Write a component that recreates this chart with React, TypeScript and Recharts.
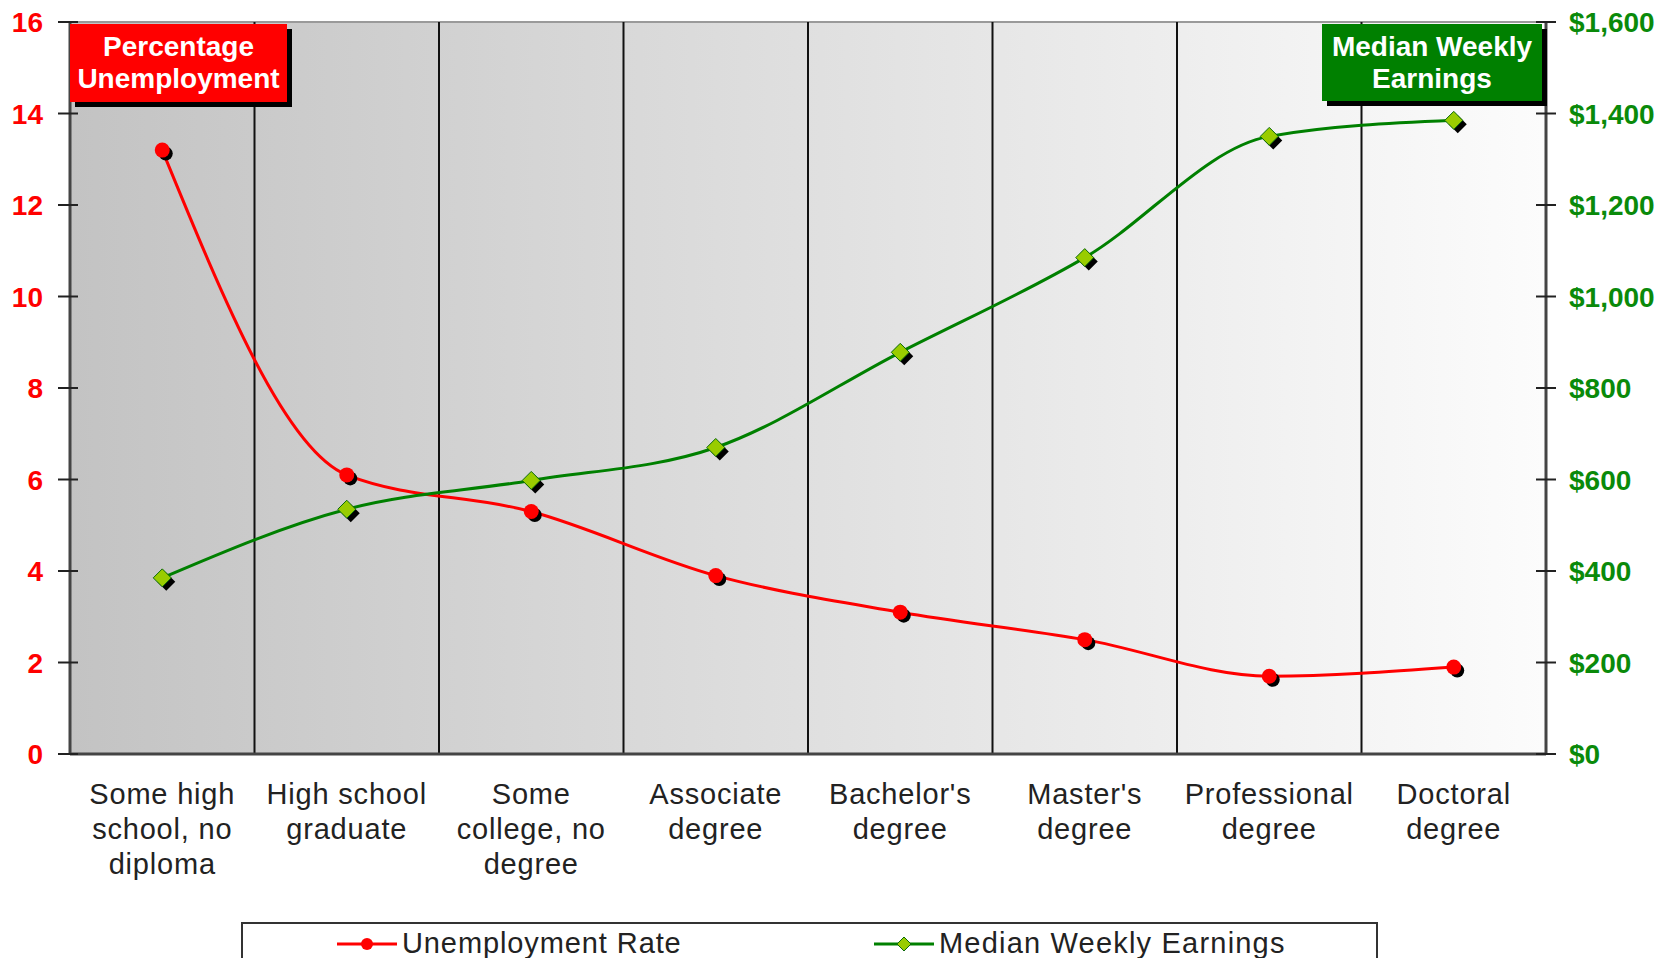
import React from 'react';
import {
  ComposedChart,
  Line,
  XAxis,
  YAxis,
  CartesianGrid,
  ReferenceLine,
} from 'recharts';

const categories = [
  'Some high\nschool, no\ndiploma',
  'High school\ngraduate',
  'Some\ncollege, no\ndegree',
  'Associate\ndegree',
  "Bachelor's\ndegree",
  "Master's\ndegree",
  'Professional\ndegree',
  'Doctoral\ndegree',
];

// Percentage unemployment (left axis)
const unemploymentRate = [13.2, 6.1, 5.3, 3.9, 3.1, 2.5, 1.7, 1.9];
// Median weekly earnings in dollars (right axis)
const weeklyEarnings = [385, 535, 598, 670, 878, 1085, 1350, 1385];

const leftTicks = [0, 2, 4, 6, 8, 10, 12, 14, 16];
const rightTicks = [0, 200, 400, 600, 800, 1000, 1200, 1400, 1600];

const FONT = '"Liberation Sans", Arial, sans-serif';

const data = categories.map((name, i) => ({
  pos: i + 0.5,
  name,
  rate: unemploymentRate[i],
  earnings: weeklyEarnings[i],
}));

const boundaryTicks = [...categories.map((_, i) => i), categories.length];
const innerBoundaries = boundaryTicks.slice(1, -1);
const centerTicks = data.map((d) => d.pos);

const LeftTick = (props: any) => {
  const { x, y, payload } = props;
  return (
    <g>
      <line x1={x - 12} x2={x + 8} y1={y} y2={y} stroke="#222" strokeWidth={2} />
      <text
        x={x - 27}
        y={y}
        dy={10}
        textAnchor="end"
        fill="#ff0000"
        fontSize={28}
        fontWeight="bold"
        fontFamily={FONT}
      >
        {payload.value}
      </text>
    </g>
  );
};

const RightTick = (props: any) => {
  const { x, y, payload } = props;
  return (
    <g>
      <line x1={x - 10} x2={x + 10} y1={y} y2={y} stroke="#222" strokeWidth={2} />
      <text
        x={x + 23}
        y={y}
        dy={10}
        textAnchor="start"
        fill="#0a8a0a"
        fontSize={28}
        fontWeight="bold"
        fontFamily={FONT}
      >
        {'$' + Number(payload.value).toLocaleString('en-US')}
      </text>
    </g>
  );
};

const CategoryTick = (props: any) => {
  const { x, y, payload } = props;
  const label = categories[Math.floor(payload.value)] || '';
  return (
    <text
      x={x}
      y={y}
      textAnchor="middle"
      fill="#222"
      fontSize={29}
      fontFamily={FONT}
      letterSpacing={0.8}
    >
      {label.split('\n').map((line, i) => (
        <tspan key={i} x={x} dy={i === 0 ? 40 : 35}>
          {line}
        </tspan>
      ))}
    </text>
  );
};

const RedDot = (props: any) => {
  const { cx, cy, index } = props;
  if (cx == null || cy == null) return <g key={`r-${index}`} />;
  return (
    <g key={`r-${index}`}>
      <circle cx={cx + 3.5} cy={cy + 3.5} r={7} fill="#000" />
      <circle cx={cx} cy={cy} r={7.5} fill="#ff0000" />
    </g>
  );
};

const diamond = (cx: number, cy: number, s: number) =>
  `${cx},${cy - s} ${cx + s},${cy} ${cx},${cy + s} ${cx - s},${cy}`;

const GreenDot = (props: any) => {
  const { cx, cy, index } = props;
  if (cx == null || cy == null) return <g key={`g-${index}`} />;
  return (
    <g key={`g-${index}`}>
      <polygon points={diamond(cx + 4, cy + 4, 9)} fill="#000" />
      <polygon points={diamond(cx, cy, 9)} fill="#99cc00" stroke="#0a6a0a" strokeWidth={1} />
    </g>
  );
};

const boxStyle: React.CSSProperties = {
  position: 'absolute',
  color: '#fff',
  fontFamily: FONT,
  fontWeight: 'bold',
  fontSize: 28,
  lineHeight: '32px',
  textAlign: 'center',
  boxShadow: '5px 5px 0 #000',
  display: 'flex',
  flexDirection: 'column',
  justifyContent: 'center',
  alignItems: 'center',
};

const App: React.FC = () => {
  return (
    <div
      style={{
        position: 'absolute',
        left: 0,
        top: 0,
        width: 1677,
        height: 958,
        overflow: 'hidden',
        background: '#fff',
      }}
    >
      <ComposedChart
        width={1677}
        height={958}
        data={data}
        margin={{ top: 22, right: 0, left: 0, bottom: 0 }}
      >
        <defs>
          <linearGradient id="plotBg" x1="0" y1="0" x2="1" y2="0">
            <stop offset="0%" stopColor="#c3c3c3" />
            <stop offset="100%" stopColor="#fcfcfc" />
          </linearGradient>
        </defs>
        <CartesianGrid
          xAxisId="edges"
          yAxisId="left"
          horizontal={false}
          vertical={false}
          fill="url(#plotBg)"
          fillOpacity={1}
        />
        <XAxis
          xAxisId="edges"
          dataKey="pos"
          type="number"
          domain={[0, categories.length]}
          ticks={boundaryTicks}
          tick={false}
          tickSize={10}
          height={10}
          axisLine={{ stroke: '#444', strokeWidth: 3 }}
          tickLine={{ stroke: '#111', strokeWidth: 2 }}
        />
        <XAxis
          xAxisId="labels"
          dataKey="pos"
          type="number"
          domain={[0, categories.length]}
          ticks={centerTicks}
          interval={0}
          axisLine={false}
          tickLine={false}
          tickSize={0}
          tickMargin={0}
          height={194}
          tick={<CategoryTick />}
        />
        <YAxis
          yAxisId="left"
          domain={[0, 16]}
          ticks={leftTicks}
          width={70}
          tickSize={0}
          tickMargin={0}
          tickLine={false}
          axisLine={{ stroke: '#444', strokeWidth: 3 }}
          tick={<LeftTick />}
        />
        <YAxis
          yAxisId="right"
          orientation="right"
          domain={[0, 1600]}
          ticks={rightTicks}
          width={131}
          tickSize={0}
          tickMargin={0}
          tickLine={false}
          axisLine={{ stroke: '#444', strokeWidth: 3 }}
          tick={<RightTick />}
        />
        <ReferenceLine xAxisId="edges" yAxisId="left" y={16} stroke="#9a9a9a" strokeWidth={2} />
        {innerBoundaries.map((b) => (
          <ReferenceLine
            key={`b-${b}`}
            xAxisId="edges"
            yAxisId="left"
            x={b}
            stroke="#111"
            strokeWidth={2}
          />
        ))}
        <Line
          xAxisId="edges"
          yAxisId="left"
          dataKey="rate"
          type="monotone"
          stroke="#ff0000"
          strokeWidth={3}
          dot={RedDot}
          activeDot={false}
          isAnimationActive={false}
        />
        <Line
          xAxisId="edges"
          yAxisId="right"
          dataKey="earnings"
          type="monotone"
          stroke="#008000"
          strokeWidth={3}
          dot={GreenDot}
          activeDot={false}
          isAnimationActive={false}
        />
      </ComposedChart>

      <div style={{ ...boxStyle, left: 70, top: 24, width: 217, height: 78, background: '#ff0000' }}>
        <div>Percentage</div>
        <div>Unemployment</div>
      </div>
      <div style={{ ...boxStyle, left: 1322, top: 24, width: 220, height: 77, background: '#008000' }}>
        <div>Median Weekly</div>
        <div>Earnings</div>
      </div>

      <div
        style={{
          position: 'absolute',
          left: 241,
          top: 922,
          width: 1133,
          height: 60,
          border: '2px solid #333',
          background: '#fff',
          fontFamily: FONT,
          fontSize: 29,
          color: '#222',
        }}
      >
        <div style={{ position: 'absolute', left: 94, top: 3, display: 'flex', alignItems: 'center' }}>
          <svg width={60} height={30}>
            <line x1={0} x2={60} y1={15} y2={15} stroke="#ff0000" strokeWidth={3} />
            <circle cx={30} cy={15} r={6} fill="#ff0000" />
          </svg>
          <span style={{ marginLeft: 5, letterSpacing: 0.9 }}>Unemployment Rate</span>
        </div>
        <div style={{ position: 'absolute', left: 631, top: 3, display: 'flex', alignItems: 'center' }}>
          <svg width={60} height={30}>
            <line x1={0} x2={60} y1={15} y2={15} stroke="#008000" strokeWidth={3} />
            <polygon points={diamond(30, 15, 7)} fill="#99cc00" stroke="#0a6a0a" strokeWidth={1} />
          </svg>
          <span style={{ marginLeft: 5, letterSpacing: 1.2 }}>Median Weekly Earnings</span>
        </div>
      </div>
    </div>
  );
};

export default App;
